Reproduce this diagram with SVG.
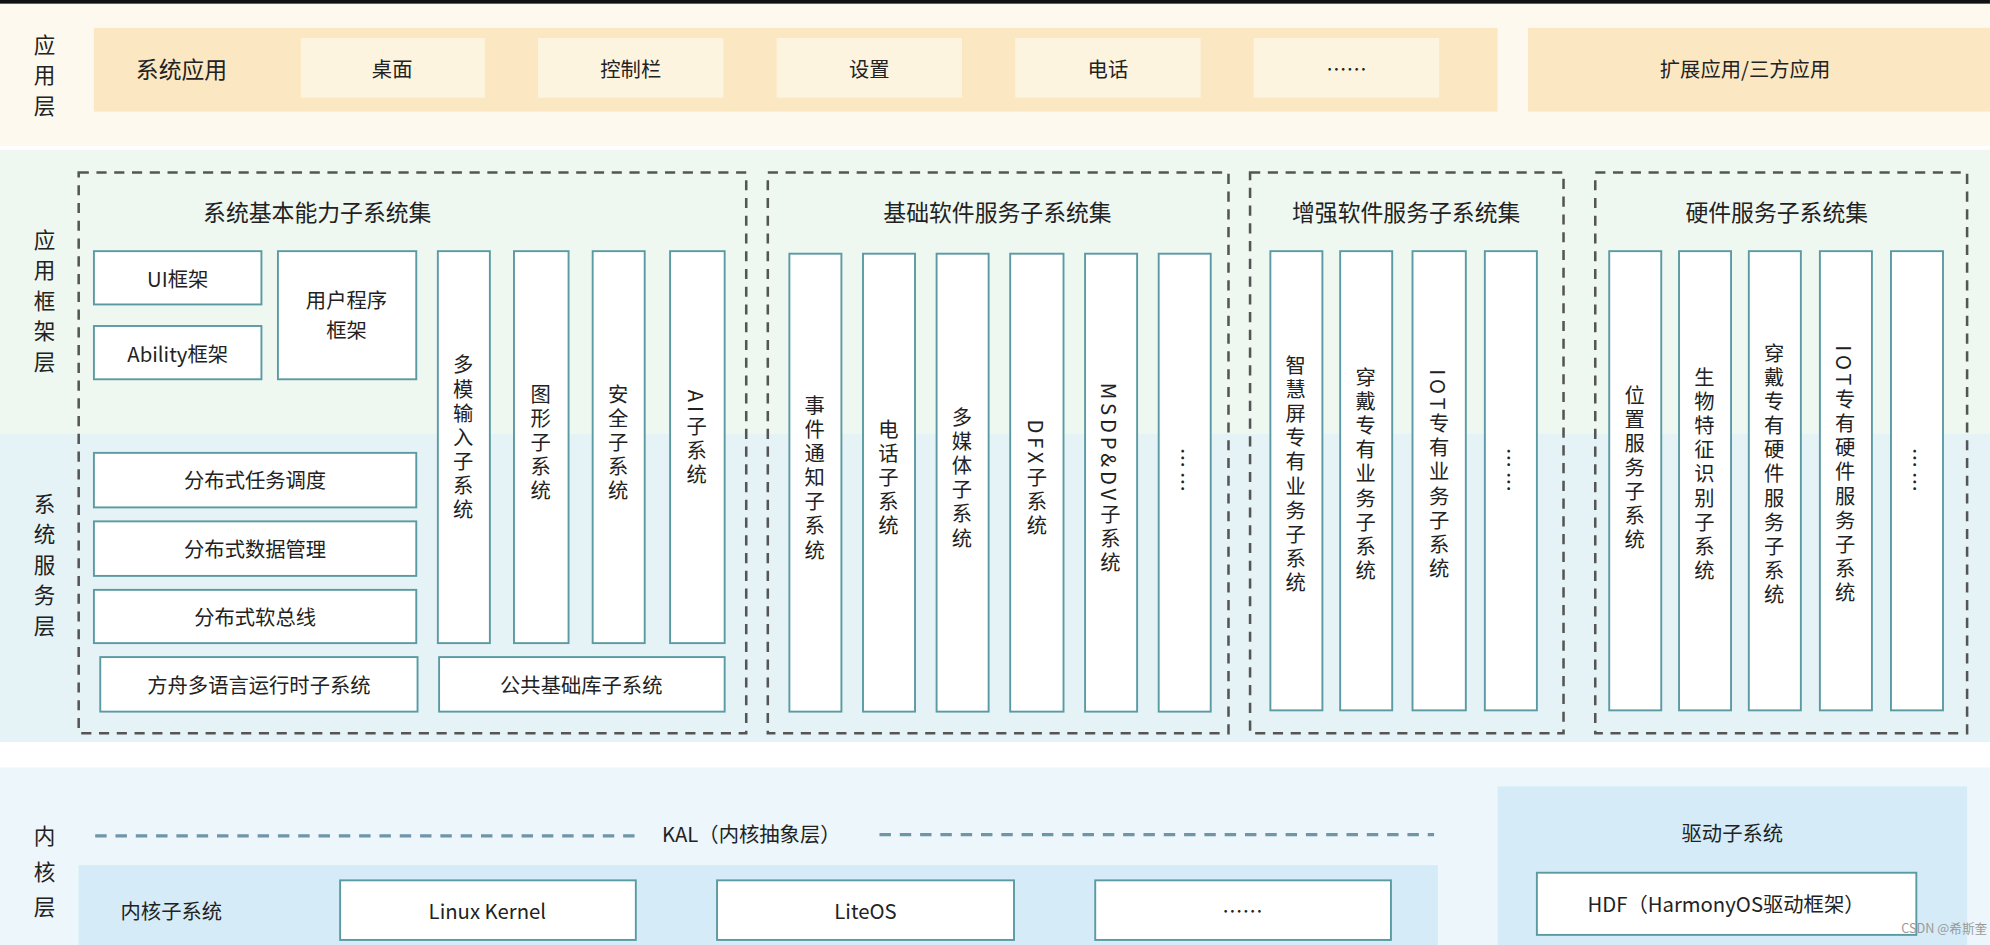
<svg xmlns="http://www.w3.org/2000/svg" width="1990" height="945" viewBox="0 0 1990 945">
<style>
text{font-family:"Noto Sans CJK SC","Liberation Sans",sans-serif;fill:#222;text-anchor:middle;dominant-baseline:central}
.lay{font-size:17px}
.t{font-size:18px}
.b{font-size:16px}
.box{fill:#fff;stroke:#5a9aa3;stroke-width:1.5}
.app{fill:#fdf4e0}
.dash{fill:none;stroke:#555;stroke-width:2;stroke-dasharray:8,6}
.v{writing-mode:vertical-rl;text-orientation:mixed;font-size:16px;letter-spacing:3px}
.kal{stroke:#6f95a8;stroke-width:2.5;stroke-dasharray:9,7}
</style>
<g transform="scale(1.2691,1.2685)">
<rect x="0" y="0" width="1568" height="745" fill="#fff"/>
<rect x="0" y="0" width="1568" height="3" fill="#111"/>
<rect x="0" y="3" width="1568" height="112" fill="#fdf9ee"/>
<rect x="0" y="118" width="1568" height="224" fill="#eff7f1"/>
<rect x="0" y="342" width="1568" height="243" fill="#e5f3f7"/>
<rect x="0" y="605" width="1568" height="140" fill="#ecf6fb"/>

<g id="layer-labels">
<text class="lay" x="35" y="34">应</text><text class="lay" x="35" y="58">用</text><text class="lay" x="35" y="82">层</text>
<text class="lay" x="35" y="188">应</text><text class="lay" x="35" y="212">用</text><text class="lay" x="35" y="236">框</text><text class="lay" x="35" y="260">架</text><text class="lay" x="35" y="284">层</text>
<text class="lay" x="35" y="396">系</text><text class="lay" x="35" y="420">统</text><text class="lay" x="35" y="444">服</text><text class="lay" x="35" y="468">务</text><text class="lay" x="35" y="492">层</text>
<text class="lay" x="35" y="658">内</text><text class="lay" x="35" y="686">核</text><text class="lay" x="35" y="714">层</text>
</g>

<g id="app-layer">
<rect x="74" y="22" width="1106" height="66" fill="#fbe8c3"/>
<text class="t" x="143" y="54">系统应用</text>
<rect class="app" x="237" y="30" width="145" height="47"/><text class="b" x="309" y="54">桌面</text>
<rect class="app" x="424" y="30" width="146" height="47"/><text class="b" x="497" y="54">控制栏</text>
<rect class="app" x="612" y="30" width="146" height="47"/><text class="b" x="685" y="54">设置</text>
<rect class="app" x="800" y="30" width="146" height="47"/><text class="b" x="873" y="54">电话</text>
<rect class="app" x="988" y="30" width="146" height="47"/><text class="b" x="1061" y="54">……</text>
<rect x="1204" y="22" width="364" height="66" fill="#fbe8c3"/><text class="b" x="1375" y="54">扩展应用/三方应用</text>
</g>

<g id="set1">
<rect class="dash" x="62" y="136" width="526" height="442"/>
<text class="t" x="250" y="167">系统基本能力子系统集</text>
<rect class="box" x="74" y="198" width="132" height="42"/><text class="b" x="140" y="219">UI框架</text>
<rect class="box" x="74" y="257" width="132" height="42"/><text class="b" x="140" y="278">Ability框架</text>
<rect class="box" x="219" y="198" width="109" height="101"/><text class="b" x="273" y="236">用户程序</text><text class="b" x="273" y="259">框架</text>
<rect class="box" x="345" y="198" width="41" height="309"/><text class="v" x="365" y="346">多模输入子系统</text>
<rect class="box" x="405" y="198" width="43" height="309"/><text class="v" x="426" y="350">图形子系统</text>
<rect class="box" x="467" y="198" width="41" height="309"/><text class="v" x="487" y="350">安全子系统</text>
<rect class="box" x="528" y="198" width="43" height="309"/><text class="v" x="549" y="346">AI子系统</text>
<rect class="box" x="74" y="357" width="254" height="43"/><text class="b" x="201" y="378">分布式任务调度</text>
<rect class="box" x="74" y="411" width="254" height="43"/><text class="b" x="201" y="432">分布式数据管理</text>
<rect class="box" x="74" y="465" width="254" height="42"/><text class="b" x="201" y="486">分布式软总线</text>
<rect class="box" x="79" y="518" width="250" height="43"/><text class="b" x="204" y="539">方舟多语言运行时子系统</text>
<rect class="box" x="346" y="518" width="225" height="43"/><text class="b" x="458" y="539">公共基础库子系统</text>
</g>

<g id="set2">
<rect class="dash" x="605" y="136" width="363" height="442"/>
<text class="t" x="786" y="167">基础软件服务子系统集</text>
<rect class="box" x="622" y="200" width="41" height="361"/><text class="v" x="642" y="378">事件通知子系统</text>
<rect class="box" x="680" y="200" width="41" height="361"/><text class="v" x="700" y="378">电话子系统</text>
<rect class="box" x="738" y="200" width="41" height="361"/><text class="v" x="758" y="378">多媒体子系统</text>
<rect class="box" x="796" y="200" width="42" height="361"/><text class="v" x="817" y="378">DFX子系统</text>
<rect class="box" x="855" y="200" width="41" height="361"/><text class="v" x="875" y="378">MSDP&amp;DV子系统</text>
<rect class="box" x="913" y="200" width="41" height="361"/><text class="v" x="933" y="372">……</text>
</g>

<g id="set3">
<rect class="dash" x="985" y="136" width="247" height="442"/>
<text class="t" x="1108" y="167">增强软件服务子系统集</text>
<rect class="box" x="1001" y="198" width="41" height="362"/><text class="v" x="1021" y="375">智慧屏专有业务子系统</text>
<rect class="box" x="1056" y="198" width="41" height="362"/><text class="v" x="1076" y="375">穿戴专有业务子系统</text>
<rect class="box" x="1113" y="198" width="42" height="362"/><text class="v" x="1134" y="375">IOT专有业务子系统</text>
<rect class="box" x="1170" y="198" width="41" height="362"/><text class="v" x="1190" y="372">……</text>
</g>

<g id="set4">
<rect class="dash" x="1257" y="136" width="293" height="442"/>
<text class="t" x="1400" y="167">硬件服务子系统集</text>
<rect class="box" x="1268" y="198" width="41" height="362"/><text class="v" x="1288" y="370">位置服务子系统</text>
<rect class="box" x="1323" y="198" width="41" height="362"/><text class="v" x="1343" y="375">生物特征识别子系统</text>
<rect class="box" x="1378" y="198" width="41" height="362"/><text class="v" x="1398" y="375">穿戴专有硬件服务子系统</text>
<rect class="box" x="1434" y="198" width="41" height="362"/><text class="v" x="1454" y="375">IOT专有硬件服务子系统</text>
<rect class="box" x="1490" y="198" width="41" height="362"/><text class="v" x="1510" y="372">……</text>
</g>

<g id="kernel">
<line class="kal" x1="75" y1="659" x2="505" y2="659"/>
<text class="b" x="592" y="657">KAL（内核抽象层）</text>
<line class="kal" x1="693" y1="658" x2="1130" y2="658"/>
<rect x="62" y="682" width="1071" height="63" fill="#d5ecf8"/>
<text class="b" x="135" y="717">内核子系统</text>
<rect class="box" x="268" y="694" width="233" height="47"/><text class="b" x="384" y="717">Linux Kernel</text>
<rect class="box" x="565" y="694" width="234" height="47"/><text class="b" x="682" y="717">LiteOS</text>
<rect class="box" x="863" y="694" width="233" height="47"/><text class="b" x="979" y="717">……</text>
</g>

<g id="driver">
<rect x="1180" y="620" width="370" height="125" fill="#d5ecf8"/>
<text class="b" x="1365" y="656">驱动子系统</text>
<rect class="box" x="1211" y="688" width="299" height="49"/><text class="b" x="1360" y="712">HDF（HarmonyOS驱动框架）</text>
</g>
<text x="1532" y="731" style="font-size:10px;fill:#999">CSDN @希斯奎</text>
</g>
</svg>
